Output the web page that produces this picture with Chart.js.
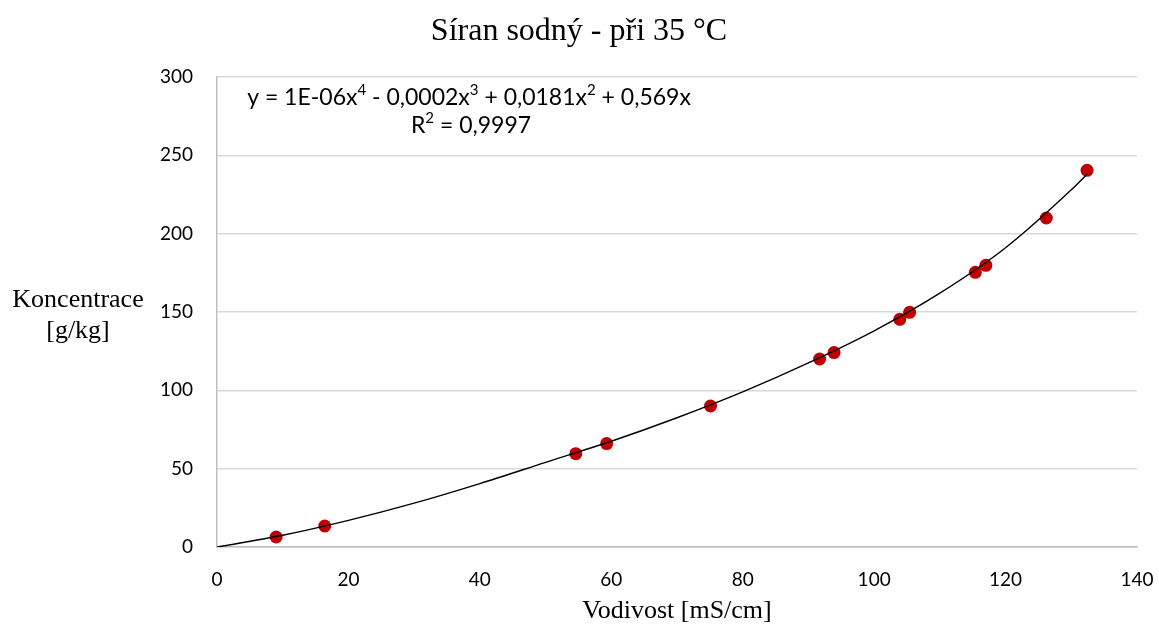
<!DOCTYPE html>
<html>
<head>
<meta charset="utf-8">
<script src="https://cdn.jsdelivr.net/npm/chart.js@4"></script>
<style>
  html, body { margin: 0; padding: 0; background: #fff; }
  #wrap { width: 1159px; height: 629px; }
</style>
</head>
<body>
<div id="wrap"><canvas id="chart" width="1159" height="629"></canvas></div>
<script>
// measured points
var vodivost = [9.0, 16.4, 54.6, 59.3, 75.1, 91.7, 93.9, 103.9, 105.4, 115.4, 117.0, 126.2, 132.4];
var koncentrace = [6.4, 13.4, 59.6, 66.0, 90.0, 120.0, 124.1, 145.3, 149.8, 175.3, 179.8, 210.0, 240.4];

// trendline
var trendX = [0, 10, 20, 30, 40, 50, 60, 70, 80, 90, 100, 110, 120, 130, 132.4];
var trendY = [0, 7.5, 17, 28, 40.5, 54, 67.5, 82.5, 99, 117.5, 138, 162, 191, 228, 238];

var xTicks = [0, 20, 40, 60, 80, 100, 120, 140];
var yTicks = [0, 50, 100, 150, 200, 250, 300];

var titleText = 'Síran sodný - při 35 °C';
var xTitle = 'Vodivost [mS/cm]';
var yTitle = ['Koncentrace', '[g/kg]'];
// equation parts: [text, superscript?]
var eqParts = [['y = 1E-06x', false], ['4', true], [' - 0,0002x', false], ['3', true], [' + 0,0181x', false], ['2', true], [' + 0,569x', false]];
var r2Parts = [['R', false], ['2', true], [' = 0,9997', false]];

var serif = '"Liberation Serif", "Times New Roman", serif';
var sans = 'Lato, "Open Sans", sans-serif';

function pairs(xs, ys) {
    return xs.map(function (x, i) { return { x: x, y: ys[i] }; });
}

function drawParts(ctx, parts, cx, cy, size) {
    var big = size + 'px ' + sans;
    var small = Math.round(size * 0.65) + 'px ' + sans;
    var total = 0;
    parts.forEach(function (p) {
        ctx.font = p[1] ? small : big;
        total += ctx.measureText(p[0]).width;
    });
    var x = cx - total / 2;
    ctx.textAlign = 'left';
    ctx.textBaseline = 'middle';
    parts.forEach(function (p) {
        ctx.font = p[1] ? small : big;
        ctx.fillText(p[0], x, p[1] ? cy - size * 0.33 : cy);
        x += ctx.measureText(p[0]).width;
    });
}

var textPlugin = {
    id: 'texts',
    afterDraw: function (chart) {
        var ctx = chart.ctx;
        var a = chart.chartArea;
        ctx.save();
        ctx.fillStyle = '#000';
        ctx.textAlign = 'center';
        ctx.textBaseline = 'middle';
        ctx.font = '32px ' + serif;
        ctx.fillText(titleText, 579, 32);
        ctx.font = '26px ' + serif;
        ctx.fillText(xTitle, (a.left + a.right) / 2, 611);
        ctx.fillText(yTitle[0], 78, 300);
        ctx.fillText(yTitle[1], 78, 331);
        drawParts(ctx, eqParts, a.left + 252, 98, 23);
        drawParts(ctx, r2Parts, a.left + 254, 126, 23);
        ctx.restore();
    }
};

new Chart(document.getElementById('chart'), {
    type: 'scatter',
    data: {
        datasets: [{
            label: 'trend',
            data: pairs(trendX, trendY),
            showLine: true,
            borderColor: '#000',
            borderWidth: 1.4,
            pointRadius: 0,
            cubicInterpolationMode: 'monotone',
            fill: false
        }, {
            label: 'data',
            data: pairs(vodivost, koncentrace),
            backgroundColor: '#c00000',
            borderColor: '#c00000',
            pointRadius: 6.5,
            borderWidth: 0
        }]
    },
    options: {
        responsive: false,
        animation: false,
        devicePixelRatio: 1,
        layout: { padding: { top: 77, right: 22, left: 0, bottom: 0 } },
        plugins: { legend: { display: false }, tooltip: { enabled: false }, title: { display: false } },
        scales: {
            x: {
                type: 'linear',
                min: 0, max: 140,
                afterBuildTicks: function (s) { s.ticks = xTicks.map(function (v) { return { value: v }; }); },
                afterFit: function (s) { s.height = 82; s.paddingLeft = 0; s.paddingRight = 0; },
                grid: { display: false, drawTicks: false },
                border: { display: true, color: '#bfbfbf', width: 1.5 },
                ticks: { color: '#000', padding: 21, font: { family: sans, size: 19 } }
            },
            y: {
                type: 'linear',
                min: 0, max: 300,
                afterBuildTicks: function (s) { s.ticks = yTicks.map(function (v) { return { value: v }; }); },
                afterFit: function (s) { s.width = 217; s.paddingTop = 0; s.paddingBottom = 0; },
                grid: { color: '#d9d9d9', lineWidth: 1.5, drawTicks: false },
                border: { display: true, color: '#bfbfbf', width: 1.5 },
                ticks: { color: '#000', padding: 24, font: { family: sans, size: 19 } }
            }
        }
    },
    plugins: [textPlugin]
});
</script>
</body>
</html>
